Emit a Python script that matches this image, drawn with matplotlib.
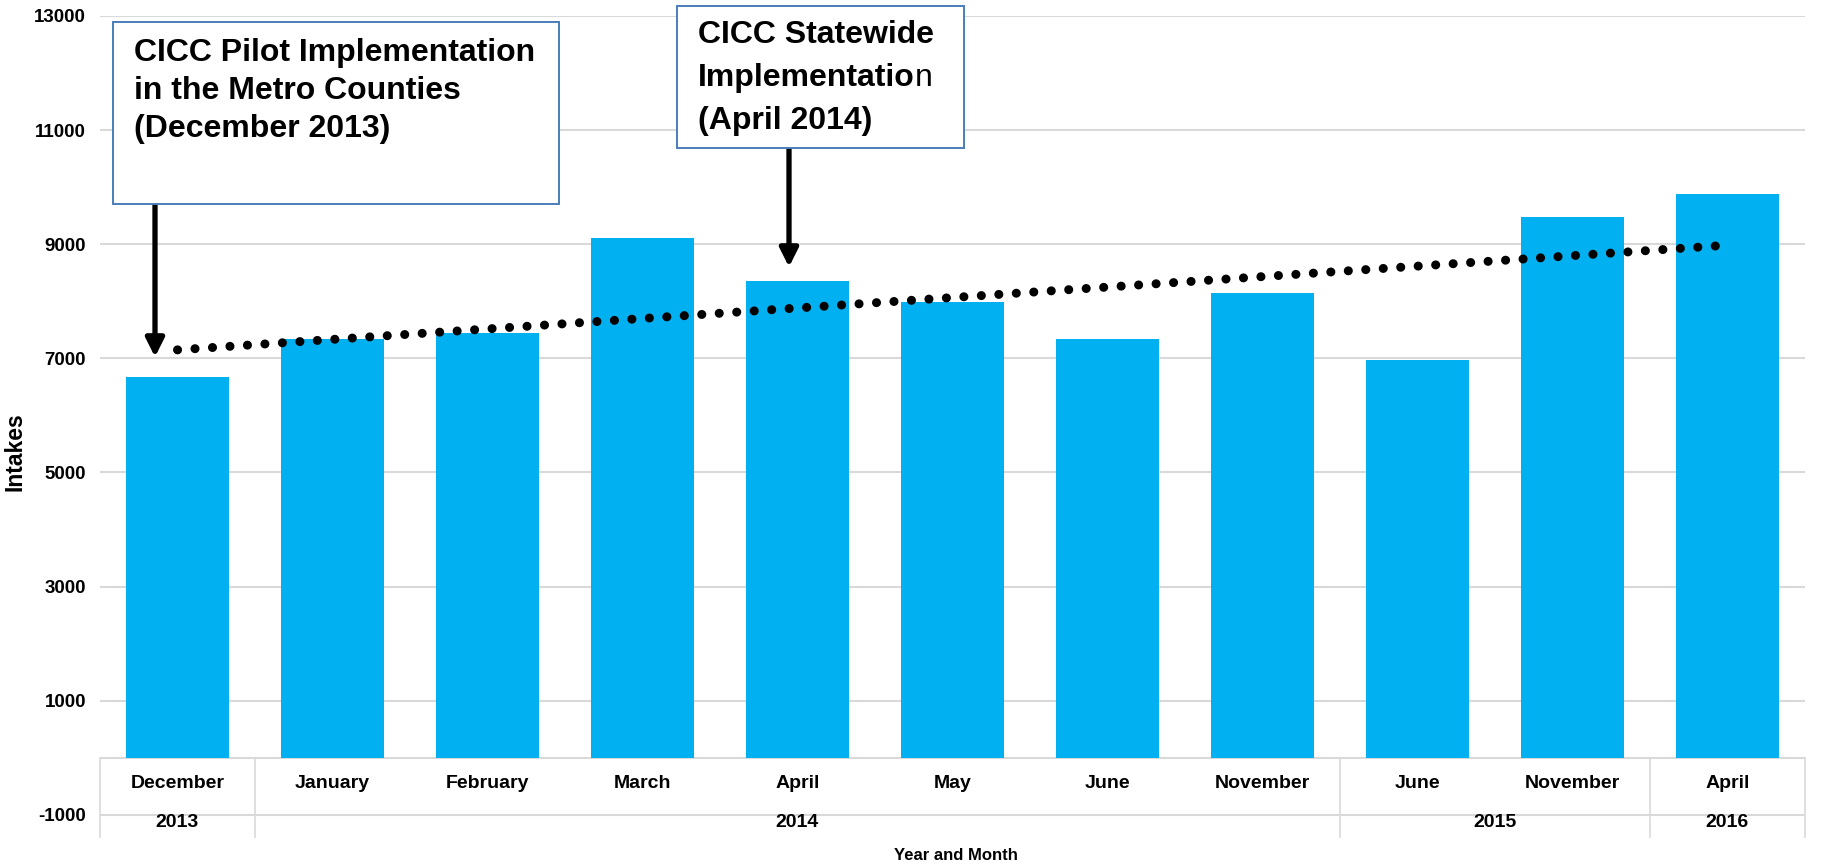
import numpy as np
import matplotlib
matplotlib.use("Agg")
import matplotlib.pyplot as plt
from matplotlib.patches import Rectangle
from matplotlib.text import Annotation

# ---------------- data ----------------
months = ["December", "January", "February", "March", "April", "May",
          "June", "November", "June", "November", "April"]
years = ["2013", "2014", "2015", "2016"]
year_span = [(0, 0), (1, 7), (8, 9), (10, 10)]   # first/last category index per year
intakes = [6680, 7340, 7440, 9110, 8350, 7990, 7340, 8150, 6970, 9470, 9880]
y_ticks = [13000, 11000, 9000, 7000, 5000, 3000, 1000, -1000]

box1_lines = ["CICC Pilot Implementation", "in the Metro Counties", "(December 2013)"]
box2_lines = ["CICC Statewide", "Implementatio", "(April 2014)"]

BAR = "#00B0F0"
GRID = "#d9d9d9"
FONT = ["Liberation Sans", "DejaVu Sans"]

W, H = 1825, 864
fig = plt.figure(figsize=(W / 100, H / 100), dpi=100)
ax = fig.add_axes([100 / W, 27 / H, 1705 / W, 821 / H])

x = np.arange(len(intakes))
ax.bar(x, intakes, width=0.67, color=BAR, zorder=2)

# linear trendline
coef = np.polyfit(x, intakes, 1)
ax.plot([x[0], x[-1]], np.polyval(coef, [x[0], x[-1]]), color="black",
        lw=6.5, linestyle=(0, (0.01, 1.93)), dash_capstyle="round", zorder=3)

ax.set_xlim(-0.5, len(intakes) - 0.5)
ax.set_ylim(-1390, 13000)
ax.set_yticks(y_ticks)
ax.set_yticklabels([str(v) for v in y_ticks], fontfamily=FONT,
                   fontweight="bold", fontsize=13.5)
ax.tick_params(axis="y", length=0, pad=10)
ax.set_xticks([])
for s in ax.spines.values():
    s.set_visible(False)
ax.grid(axis="y", color=GRID, lw=1.5, zorder=0)
ax.set_axisbelow(True)

# category table below zero line
ax.axhline(0, color=GRID, lw=1.5, zorder=1)
bounds = [-0.5] + [e + 0.5 for (_, e) in year_span]
for b in bounds:
    ax.plot([b, b], [0, -1390], color=GRID, lw=1.2, zorder=1, clip_on=False)
for i, m in enumerate(months):
    ax.text(i, -450, m, ha="center", va="center", fontfamily=FONT,
            fontweight="bold", fontsize=14)
for yr, (a, b) in zip(years, year_span):
    ax.text((a + b) / 2, -1130, yr, ha="center", va="center", fontfamily=FONT,
            fontweight="bold", fontsize=14)

ax.set_ylabel("Intakes", fontfamily=FONT, fontweight="bold", fontsize=16.5)
ax.yaxis.set_label_coords(-0.0434, 0.47)
ax.set_xlabel("Year and Month", fontfamily=FONT, fontweight="bold", fontsize=12)
ax.xaxis.set_label_coords(0.502, -0.0134)

# annotation boxes (figure pixel layout)
def px(xp, yp):
    return xp / W, 1 - yp / H

def box(x0, y0, x1, y1):
    fig.patches.append(Rectangle(px(x0, y1), (x1 - x0) / W, (y1 - y0) / H,
                                 transform=fig.transFigure, fill=True,
                                 facecolor="white", edgecolor="#4a7ebb", lw=1.4,
                                 zorder=5))

box(113, 22, 559, 204)
for k, t in enumerate(box1_lines):
    fig.text(*px(134, 53 + 38 * k), t, ha="left", va="center",
             fontfamily=FONT, fontweight="bold", fontsize=23, zorder=6)

box(677, 6, 964, 148)
texts = []
for k, t in enumerate(box2_lines):
    texts.append(fig.text(*px(698, 35 + 43 * k), t, ha="left", va="center",
                          fontfamily=FONT, fontweight="bold", fontsize=23, zorder=6))
n_txt = Annotation("n", xy=(1, 0), xycoords=texts[1], ha="left", va="bottom",
                   fontfamily=FONT, fontweight="normal", fontsize=23,
                   annotation_clip=False)
n_txt.set_zorder(7)
fig.add_artist(n_txt)

# arrows
def arrow(xp, y_from, y_to):
    ax.annotate("", xy=px(xp, y_to), xycoords="figure fraction",
                xytext=px(xp, y_from), textcoords="figure fraction",
                arrowprops=dict(arrowstyle="-|>,head_length=1.1,head_width=0.55",
                                color="black", lw=3.8, shrinkA=0, shrinkB=0),
                annotation_clip=False)

arrow(155, 204, 357)
arrow(789, 148, 267)

fig.savefig("out.png", dpi=100, facecolor="white")
